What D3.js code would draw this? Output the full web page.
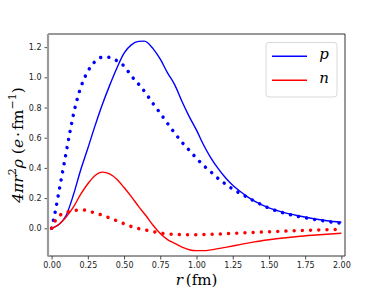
<!DOCTYPE html>
<html><head><meta charset="utf-8">
<script src="https://cdn.jsdelivr.net/npm/d3@7"></script>
<style>html,body{margin:0;padding:0;background:#fff;}</style>
</head><body><svg id="c" width="384" height="288"></svg>
<script>
const pSolidR = [0,0.05,0.1,0.15,0.2,0.25,0.3,0.35,0.4,0.45,0.5,0.55,0.6,0.64,0.7,0.75,0.8,0.85,0.9,0.95,1.0,1.05,1.1,1.15,1.2,1.25,1.3,1.35,1.4,1.5,1.6,1.7,1.8,1.9,2.0];
const pSolidV = [0,0.025,0.085,0.22,0.385,0.53,0.68,0.82,0.945,1.06,1.16,1.215,1.238,1.24,1.19,1.12,1.03,0.95,0.84,0.74,0.65,0.55,0.465,0.395,0.335,0.285,0.245,0.21,0.18,0.135,0.105,0.083,0.065,0.05,0.04];
const pDotR = [0,0.025,0.05,0.075,0.1,0.125,0.15,0.175,0.2,0.25,0.3,0.35,0.4,0.45,0.5,0.55,0.6,0.65,0.7,0.75,0.8,0.85,0.9,0.95,1.0,1.05,1.1,1.15,1.2,1.25,1.3,1.35,1.4,1.5,1.6,1.7,1.8,1.9,2.0];
const pDotV = [0,0.11,0.24,0.37,0.5,0.63,0.75,0.85,0.93,1.04,1.105,1.133,1.132,1.11,1.075,1.01,0.955,0.895,0.826,0.762,0.695,0.63,0.57,0.517,0.464,0.415,0.373,0.33,0.293,0.26,0.232,0.206,0.18,0.134,0.102,0.079,0.061,0.046,0.033];
const nSolidR = [0,0.05,0.1,0.15,0.2,0.25,0.3,0.35,0.4,0.45,0.5,0.55,0.6,0.65,0.7,0.75,0.8,0.85,0.9,0.95,1.0,1.05,1.1,1.2,1.3,1.4,1.5,1.6,1.7,1.8,1.9,2.0];
const nSolidV = [0,0.025,0.075,0.14,0.225,0.295,0.35,0.372,0.36,0.325,0.27,0.21,0.145,0.085,0.02,-0.035,-0.075,-0.1,-0.125,-0.142,-0.148,-0.148,-0.143,-0.126,-0.108,-0.09,-0.076,-0.064,-0.054,-0.046,-0.039,-0.033];
const nDotR = [0,0.025,0.05,0.1,0.15,0.2,0.25,0.3,0.35,0.4,0.45,0.5,0.55,0.6,0.65,0.7,0.75,0.8,0.85,0.9,1.0,1.1,1.2,1.3,1.4,1.5,1.6,1.7,1.8,1.9,1.98];
const nDotV = [0,0.05,0.08,0.105,0.117,0.122,0.117,0.1,0.087,0.069,0.05,0.03,0.012,-0.002,-0.012,-0.022,-0.031,-0.037,-0.04,-0.042,-0.042,-0.04,-0.036,-0.031,-0.027,-0.023,-0.019,-0.015,-0.012,-0.009,-0.007];
const xTicks = [0,0.25,0.5,0.75,1.0,1.25,1.5,1.75,2.0];
const yTicks = [0,0.2,0.4,0.6,0.8,1.0,1.2];
const legendLabels = ["p","n"];
const colors = {p:"#0000ff", n:"#ff0000"};

const svg = d3.select("#c");
const L=48, R=345, T=34, B=256;
const x = d3.scaleLinear().domain([-0.025,2.025]).range([L,R]);
const y = d3.scaleLinear().domain([-0.1835,1.287]).range([B,T]);

const zip = (a,b)=>a.map((r,i)=>[r,b[i]]);
const line = d3.line().x(d=>x(d[0])).y(d=>y(d[1])).curve(d3.curveMonotoneX);
svg.append("clipPath").attr("id","cp").append("rect").attr("x",L).attr("y",T-2).attr("width",R-L).attr("height",B-T+2);
const plot = svg.append("g").attr("clip-path","url(#cp)");

const dotted = (sel,c)=>sel.attr("fill","none").attr("stroke",c).attr("stroke-width",3.5).attr("stroke-linecap","round").attr("stroke-dasharray","0.01,8.2");
plot.append("path").attr("d",line(zip(pSolidR,pSolidV))).attr("fill","none").attr("stroke",colors.p).attr("stroke-width",1.4);
dotted(plot.append("path").attr("d",line(zip(pDotR,pDotV))),colors.p);
plot.append("path").attr("d",line(zip(nSolidR,nSolidV))).attr("fill","none").attr("stroke",colors.n).attr("stroke-width",1.4);
dotted(plot.append("path").attr("d",line(zip(nDotR,nDotV))),colors.n);

// axes
const xa = svg.append("g").attr("transform",`translate(0,${B})`)
  .call(d3.axisBottom(x).tickValues(xTicks).tickFormat(d3.format(".2f")).tickSize(3.5).tickPadding(2.5));
const ya = svg.append("g").attr("transform",`translate(${L},0)`)
  .call(d3.axisLeft(y).tickValues(yTicks).tickFormat(d3.format(".1f")).tickSize(3.5).tickPadding(3));
[xa,ya].forEach(a=>{
  a.select(".domain").remove();
  a.selectAll(".tick line").attr("stroke","#222").attr("stroke-width",0.8);
  a.selectAll(".tick text").attr("fill","#222").style("font-family","DejaVu Sans").style("font-size","8px");
});
// spines
svg.append("line").attr("x1",L).attr("x2",R).attr("y1",T).attr("y2",T).attr("stroke","#333").attr("stroke-width",1);
svg.append("line").attr("x1",R).attr("x2",R).attr("y1",T).attr("y2",B).attr("stroke","#333").attr("stroke-width",1);
svg.append("line").attr("x1",L).attr("x2",R).attr("y1",B).attr("y2",B).attr("stroke","#333").attr("stroke-width",1);
svg.append("line").attr("x1",L).attr("x2",L).attr("y1",T).attr("y2",B+0.5).attr("stroke","#9a9a9a").attr("stroke-width",2.2);

// legend
const lg = svg.append("g");
lg.append("rect").attr("x",266).attr("y",42.5).attr("width",71).attr("height",54.5).attr("rx",3)
  .attr("fill","#fff").attr("fill-opacity",0.8).attr("stroke","#d9d9d9").attr("stroke-width",1);
legendLabels.forEach((k,i)=>{
  const yy = 56.3 + i*24;
  lg.append("line").attr("x1",272).attr("x2",307).attr("y1",yy).attr("y2",yy).attr("stroke",colors[k]).attr("stroke-width",1.4);
  lg.append("text").attr("x",324).attr("y",yy+3).attr("text-anchor","middle")
    .style("font-family","DejaVu Serif").style("font-style","italic").style("font-size","15px").attr("fill","#000").text(k);
});

// axis labels
const xl = svg.append("text").attr("x",(L+R)/2).attr("y",284.5).attr("text-anchor","middle")
  .style("font-family","DejaVu Serif").style("font-size","15px").attr("fill","#000");
xl.append("tspan").style("font-style","italic").text("r");
xl.append("tspan").attr("dx",3).text("(fm)");

const yl = svg.append("text").attr("transform",`translate(23,${(T+B)/2}) rotate(-90)`).attr("text-anchor","middle")
  .style("font-family","DejaVu Serif").style("font-size","15.5px").attr("fill","#000");
yl.append("tspan").style("font-style","italic").text("4πr");
yl.append("tspan").attr("dy",-7).style("font-size","11px").text("2");
yl.append("tspan").attr("dy",7).style("font-style","italic").text("ρ");
yl.append("tspan").attr("dx",5).text("(");
yl.append("tspan").style("font-style","italic").text("e");
yl.append("tspan").attr("dx",2).text("·");
yl.append("tspan").attr("dx",2).text("fm");
yl.append("tspan").attr("dy",-7).style("font-size","11px").text("−1");
yl.append("tspan").attr("dy",7).text(")");
</script></body></html>
